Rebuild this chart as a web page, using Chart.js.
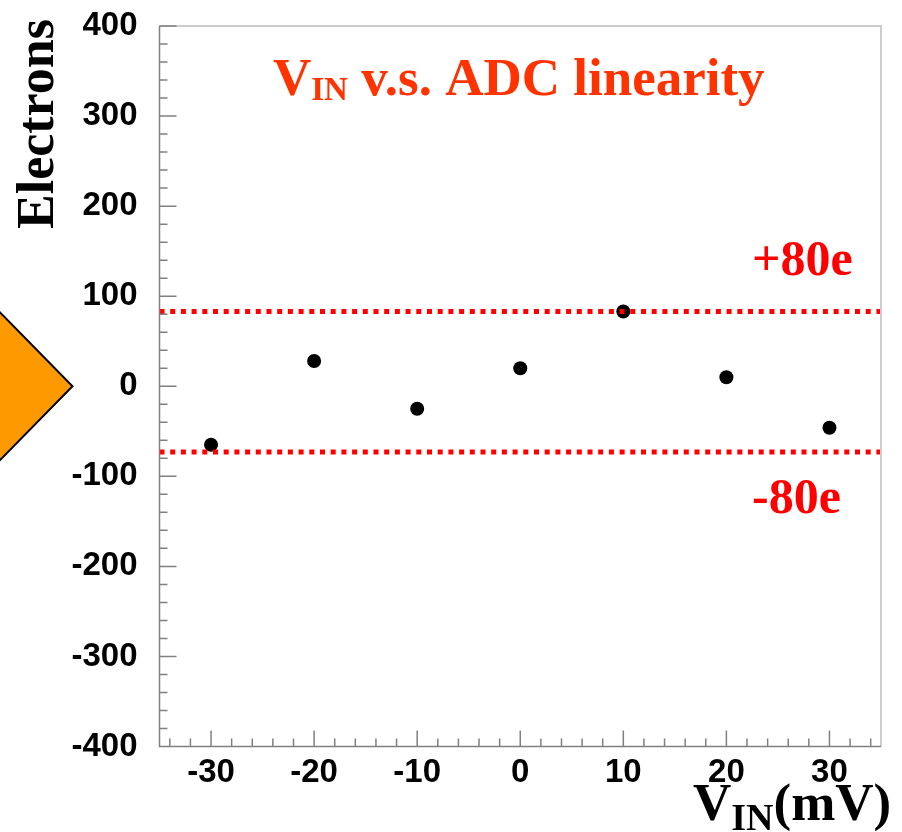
<!DOCTYPE html>
<html>
<head>
<meta charset="utf-8">
<script src="https://cdn.jsdelivr.net/npm/chart.js@4/dist/chart.umd.min.js"></script>
<style>
  html, body { margin: 0; padding: 0; background: #fff; overflow: hidden; }
  #wrap { width: 902px; height: 832px; }
</style>
</head>
<body>
<div id="wrap"><canvas id="chart" width="902" height="832"></canvas></div>
<script>
// ---- data ----
const vinMv     = [-30, -20, -10, 0, 10, 20, 30];
const electrons = [-65, 28, -25, 20, 83, 10, -46];
const upperLimit = 83;    // "+80e" dotted line as drawn
const lowerLimit = -73;   // "-80e" dotted line as drawn
const xRange = [-35, 35];
const yRange = [-400, 400];
const xTickValues = [-30, -20, -10, 0, 10, 20, 30];

const SANS = "'Liberation Sans', Arial, sans-serif";
const SERIF = "'Liberation Serif', 'Times New Roman', serif";

const limitLine = (y) => ({
  type: 'line',
  data: [{ x: xRange[0], y }, { x: xRange[1], y }],
  borderColor: '#ff0000',
  borderWidth: 5,
  borderDash: [5, 5.7],
  borderCapStyle: 'butt',
  pointRadius: 0,
  clip: false,
  order: 1
});

// draws the ROOT-style frame, inner ticks, arrow and all the big labels
const decorations = {
  id: 'decorations',
  afterDraw(chart) {
    const { ctx, chartArea: a, scales: { x, y } } = chart;
    ctx.save();

    // frame
    ctx.lineWidth = 2;
    ctx.strokeStyle = '#cccccc';
    ctx.beginPath();
    ctx.moveTo(a.left, a.top); ctx.lineTo(a.right, a.top); ctx.lineTo(a.right, a.bottom);
    ctx.stroke();

    ctx.lineWidth = 1.5;
    ctx.strokeStyle = '#808080';
    ctx.beginPath();
    ctx.moveTo(a.left, a.top); ctx.lineTo(a.left, a.bottom); ctx.lineTo(a.right, a.bottom);
    // y ticks, pointing inside
    for (let v = yRange[0]; v <= yRange[1]; v += 20) {
      const py = y.getPixelForValue(v);
      const len = v % 100 === 0 ? 17 : 8;
      ctx.moveTo(a.left, py); ctx.lineTo(a.left + len, py);
    }
    // x ticks, pointing inside
    for (let v = -34; v <= 34; v += 2) {
      const px = x.getPixelForValue(v);
      const len = v % 10 === 0 ? 16 : 8;
      ctx.moveTo(px, a.bottom); ctx.lineTo(px, a.bottom - len);
    }
    ctx.stroke();

    // orange arrow on the left, tip at zero
    const tipY = y.getPixelForValue(0);
    ctx.beginPath();
    ctx.moveTo(-5, tipY - 79);
    ctx.lineTo(72.5, tipY);
    ctx.lineTo(-5, tipY + 79);
    ctx.closePath();
    ctx.fillStyle = '#ff9900';
    ctx.fill();
    ctx.lineWidth = 2;
    ctx.strokeStyle = '#000';
    ctx.stroke();

    ctx.textAlign = 'left';
    ctx.textBaseline = 'alphabetic';

    // title
    ctx.fillStyle = '#ff3300';
    let cx = 273;
    ctx.font = `bold 53px ${SERIF}`;
    ctx.fillText('V', cx, 95); cx += ctx.measureText('V').width;
    ctx.font = `bold 33px ${SERIF}`;
    ctx.fillText('IN', cx, 100); cx += ctx.measureText('IN').width;
    ctx.font = `bold 53px ${SERIF}`;
    ctx.fillText(' v.s. ADC linearity', cx, 95);

    // limit labels
    ctx.fillStyle = '#ff0000';
    ctx.font = `bold 50px ${SERIF}`;
    ctx.fillText('+80e', 752, 275);
    ctx.fillText('-80e', 752, 513);

    // x axis title
    ctx.fillStyle = '#000';
    cx = 693;
    ctx.font = `bold 53px ${SERIF}`;
    ctx.fillText('V', cx, 820); cx += ctx.measureText('V').width;
    ctx.font = `bold 38px ${SERIF}`;
    ctx.fillText('IN', cx, 830); cx += ctx.measureText('IN').width;
    ctx.font = `bold 53px ${SERIF}`;
    ctx.fillText('(mV)', cx, 820);

    // y axis title
    ctx.translate(53, 229);
    ctx.rotate(-Math.PI / 2);
    ctx.font = `bold 52px ${SERIF}`;
    ctx.fillText('Electrons', 0, 0);

    ctx.restore();
  }
};

new Chart(document.getElementById('chart'), {
  type: 'scatter',
  data: {
    datasets: [
      limitLine(upperLimit),
      limitLine(lowerLimit),
      {
        type: 'scatter',
        data: vinMv.map((v, i) => ({ x: v, y: electrons[i] })),
        backgroundColor: '#000',
        borderWidth: 0,
        pointRadius: 7,
        order: 2
      }
    ]
  },
  options: {
    responsive: false,
    animation: false,
    devicePixelRatio: 1,
    layout: { padding: { top: 26, right: 21, left: 0, bottom: 0 } },
    plugins: { legend: { display: false }, tooltip: { enabled: false } },
    scales: {
      x: {
        type: 'linear',
        min: xRange[0],
        max: xRange[1],
        grid: { display: false, drawTicks: false },
        border: { display: false },
        ticks: {
          maxRotation: 0,
          autoSkip: false,
          padding: 7,
          color: '#000',
          font: { family: SANS, weight: 'bold', size: 33 }
        },
        afterBuildTicks: (s) => { s.ticks = xTickValues.map(v => ({ value: v })); },
        afterFit: (s) => { s.height = 85.5; s.paddingLeft = 0; s.paddingRight = 0; }
      },
      y: {
        type: 'linear',
        min: yRange[0],
        max: yRange[1],
        grid: { display: false, drawTicks: false },
        border: { display: false },
        ticks: {
          stepSize: 100,
          padding: 22,
          color: '#000',
          font: { family: SANS, weight: 'bold', size: 33 }
        },
        afterFit: (s) => { s.width = 159.5; s.paddingTop = 0; s.paddingBottom = 0; }
      }
    }
  },
  plugins: [decorations]
});
</script>
</body>
</html>
